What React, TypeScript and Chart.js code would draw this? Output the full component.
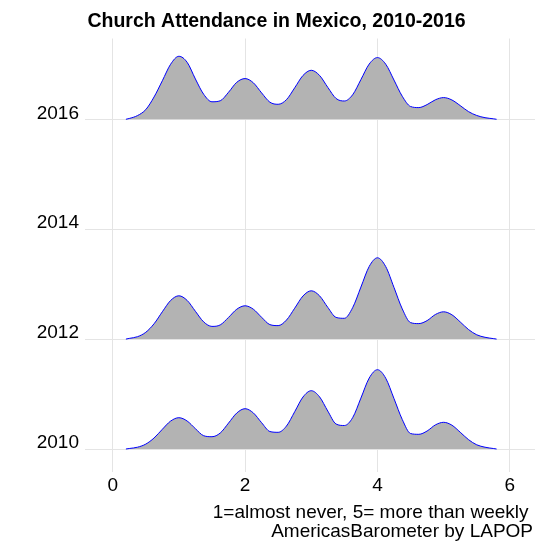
import { useEffect, useRef } from "react"
import { Chart, registerables } from "chart.js"

Chart.register(...registerables)

const FONT = "'Liberation Sans', Arial, sans-serif"

// x positions where the ridge heights were read (attendance scale)
const X_GRID = [
  0.2, 0.25, 0.375, 0.5, 0.625, 0.75, 0.875,
  1, 1.125, 1.25, 1.375, 1.5, 1.625, 1.75, 1.875,
  2, 2.125, 2.25, 2.375, 2.5, 2.625, 2.75, 2.875,
  3, 3.125, 3.25, 3.375, 3.5, 3.625, 3.75, 3.875,
  4, 4.125, 4.25, 4.375, 4.5, 4.625, 4.75, 4.875,
  5, 5.125, 5.25, 5.375, 5.5, 5.625, 5.75, 5.8,
]

// relative density heights per survey year
const DENSITY_2016 = [
  0, 0.8, 3.7, 9.7, 22.3, 38.5, 55,
  63, 57, 40.3, 25, 17.5, 18.5, 27, 37,
  40.7, 36.5, 26.4, 17.1, 15, 19.6, 31.5, 43.8,
  49, 43.9, 31.9, 20.8, 18.3, 24.5, 39.7, 55.2,
  61.7, 55.1, 39.2, 23, 12.8, 11.7, 14.7, 19.5,
  21.7, 19.3, 13.7, 7.7, 3.8, 1.6, 0.5, 0,
]
const DENSITY_2012 = [
  0, 0.7, 2.4, 6.8, 15.3, 27.3, 38.6,
  43.3, 38.7, 27.8, 17.2, 12.7, 14.2, 21.7, 29.9,
  33.3, 29.9, 21.8, 14.5, 13.5, 19, 30.9, 43.1,
  48.3, 43.3, 31.7, 21.7, 20.8, 31.4, 52, 72.6,
  81.3, 72.5, 51.6, 30.2, 16.5, 15.5, 18.5, 24.6,
  27.3, 24.3, 17.2, 9.6, 4.3, 1.8, 0.5, 0,
]
const DENSITY_2010 = [
  0, 0.5, 1.8, 4.9, 11, 19.7, 27.9,
  31.3, 28, 20.3, 13.3, 12.3, 16, 25.9, 36,
  40.3, 36.1, 26.3, 17.5, 16.7, 22.9, 37.3, 52,
  58.3, 52.2, 37.9, 25, 23.5, 31.3, 50.9, 70.9,
  79.3, 70.8, 50.4, 29.5, 15.5, 14.7, 18, 24.1,
  26.7, 23.8, 16.8, 9.4, 4.2, 1.8, 0.5, 0,
]

const YEARS = [2010, 2012, 2014, 2016]
const RIDGES: [number, number[]][] = [
  [2016, DENSITY_2016],
  [2012, DENSITY_2012],
  [2010, DENSITY_2010],
]
const X_TICKS = [0, 2, 4, 6]

// one density unit in years on the ridge axis
const RIDGE_SCALE = 1 / 54.95

const TITLE = "Church Attendance in Mexico, 2010-2016"
const X_TITLE = "1=almost never, 5= more than weekly"
const CAPTION = "AmericasBarometer by LAPOP"

const GRID_COLOR = "#e4e4e4"

const captionPlugin = {
  id: "captions",
  afterDraw(chart: Chart) {
    const { ctx } = chart
    ctx.save()
    ctx.font = `19px ${FONT}`
    ctx.fillStyle = "#000"
    ctx.textAlign = "right"
    ctx.textBaseline = "middle"
    ctx.fillText(X_TITLE, 528.5, 512.5)
    ctx.fillText(CAPTION, 533, 532)
    ctx.restore()
  },
}

export default function App() {
  const chartRef = useRef<HTMLCanvasElement>(null)
  const chartInstance = useRef<Chart | null>(null)

  useEffect(() => {
    if (!chartRef.current) return
    if (chartInstance.current) chartInstance.current.destroy()

    chartInstance.current = new Chart(chartRef.current, {
      type: "line",
      data: {
        datasets: RIDGES.map(([year, dens]) => ({
          label: String(year),
          data: X_GRID.map((x, i) => ({ x, y: year + dens[i] * RIDGE_SCALE })),
          borderColor: "#0000ff",
          borderWidth: 1,
          backgroundColor: "#b3b3b3",
          fill: { value: year },
          pointRadius: 0,
          cubicInterpolationMode: "monotone" as const,
        })),
      },
      options: {
        animation: false,
        responsive: true,
        maintainAspectRatio: false,
        layout: { padding: { top: 0, left: 0, right: 0, bottom: 50.3 } },
        plugins: {
          legend: { display: false },
          tooltip: { enabled: false },
          title: {
            display: true,
            text: TITLE,
            color: "#000",
            font: { family: FONT, size: 19.5, weight: "bold" },
            padding: { top: 10.3, bottom: 4.8 },
          },
        },
        scales: {
          x: {
            type: "linear",
            min: -0.418,
            max: 6.38,
            afterBuildTicks: (axis) => {
              axis.ticks = X_TICKS.map((v) => ({ value: v }))
            },
            afterFit: (scale) => {
              scale.height = 30
            },
            grid: { color: GRID_COLOR, lineWidth: 1, drawTicks: false },
            border: { display: false },
            ticks: {
              color: "#000",
              font: { family: FONT, size: 19 },
              padding: 3,
              maxRotation: 0,
              callback: (v) => String(v),
            },
          },
          y: {
            type: "linear",
            min: 2009.587,
            max: 2017.47,
            afterBuildTicks: (axis) => {
              axis.ticks = YEARS.map((v) => ({ value: v }))
            },
            afterFit: (scale) => {
              scale.width = 85
            },
            grid: { color: GRID_COLOR, lineWidth: 1, drawTicks: false },
            border: { display: false },
            ticks: {
              color: "#000",
              font: { family: FONT, size: 19 },
              padding: 6,
              labelOffset: -6,
              callback: (v) => String(v),
            },
          },
          yRight: {
            type: "linear",
            position: "right",
            display: true,
            afterFit: (scale) => {
              scale.width = 18
            },
            grid: { display: false, drawTicks: false },
            border: { display: false },
            ticks: { display: false },
          },
        },
      },
      plugins: [captionPlugin],
    })

    return () => {
      if (chartInstance.current) {
        chartInstance.current.destroy()
        chartInstance.current = null
      }
    }
  }, [])

  return (
    <div style={{ position: "fixed", left: 0, top: 0, width: 553, height: 552, background: "#fff" }}>
      <canvas ref={chartRef} />
    </div>
  )
}
